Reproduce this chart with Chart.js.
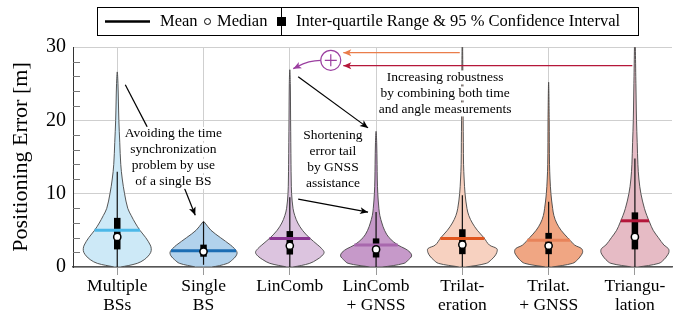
<!DOCTYPE html>
<html>
<head>
<meta charset="utf-8">
<script src="https://cdn.jsdelivr.net/npm/chart.js@4.4.0/dist/chart.umd.min.js"></script>
<style>
  body { margin: 0; background: #fff; }
  #wrap { width: 678px; height: 320px; }
</style>
</head>
<body>
<div id="wrap"><canvas id="chart" width="678" height="320"></canvas></div>
<script>
// categories and summary statistics (m)
const categories = [['Multiple', 'BSs'], ['Single', 'BS'], ['LinComb'], ['LinComb', '+ GNSS'], ['Trilat-', 'eration'], ['Trilat.', '+ GNSS'], ['Triangu-', 'lation']];
const meanErr = [5.0, 2.2, 3.9, 3.0, 3.9, 3.65, 6.3];
const medianErr = [4.1, 2.1, 2.9, 2.4, 3.05, 2.9, 4.1];
const q1Err = [2.4, 1.4, 1.7, 1.3, 1.75, 1.75, 2.4];
const q3Err = [6.7, 3.05, 4.9, 3.9, 5.15, 4.65, 7.45];
const ciLow = [0, 0.3, 0, 0, 0, 0, 0];
const ciHigh = [13.0, 6.2, 9.5, 7.5, 9.8, 8.9, 14.8];
const tailTop = [26.6, 6.2, 26.9, 18.5, 32, 25.2, 32];

// kernel density (relative units) sampled at these error values
const densityY = [0, 0.5, 1, 1.5, 2, 2.5, 3, 4, 5, 6, 7, 8, 10, 12, 14, 17, 20, 25];
const densMultiple = [3, 20, 27, 31, 33.5, 34, 33, 28.5, 22.7, 18, 14, 10.5, 7.3, 5, 3.5, 2.5, 1.6, 0.7];
const densSingle = [8, 24, 29, 32.5, 33.5, 31, 27, 17, 7.5, 1.5];
const densLinComb = [3, 20, 27, 32, 34.3, 32, 28, 19.5, 12.7, 8, 5, 3.2, 1.8, 1.4, 1.2, 1, 0.8, 0.5];
const densLinCombGnss = [6, 28, 32.5, 35.5, 34, 29, 21.7, 13, 8.5, 5.8, 3.8, 2.8, 1.7, 1.2, 1, 0.6];
const densTrilat = [3, 24, 29, 32.5, 34.5, 34.5, 27, 21.5, 15, 10, 6.5, 4.6, 2.7, 1.8, 1.2, 1, 0.8, 0.6];
const densTrilatGnss = [3, 24, 29, 32, 34, 33, 26, 19, 12.5, 8, 5.3, 4, 2.3, 1.4, 0.9, 0.7, 0.6];
const densTriang = [3, 24, 29, 32, 34, 33.5, 29, 23.5, 18.3, 15, 12, 9.5, 6, 4, 3, 2.3, 1.6, 1];
const densities = [densMultiple, densSingle, densLinComb, densLinCombGnss, densTrilat, densTrilatGnss, densTriang];

const fillColors = ['#cde9f7', '#b2d2ec', '#dcc4df', '#c699c9', '#f7d1c0', '#f0a683', '#e6bbc5'];
const meanColors = ['#4cb8e8', '#1b6db4', '#8a3592', '#a867ad', '#e1571f', '#e8835a', '#b4173b'];
const DENSITY_SCALE = 1 / 86.3;
const SERIF = '"Liberation Serif", "DejaVu Serif", serif';

function violinPoints(i) {
    const d = densities[i];
    const side = [];
    densityY.forEach((y, k) => { if (y < tailTop[i] && d[k] != null) side.push([y, d[k] * DENSITY_SCALE]); });
    side.push([tailTop[i], 0]);
    const left = side.map(([y, w]) => ({ x: i - w, y }));
    const right = side.slice().reverse().map(([y, w]) => ({ x: i + w, y }));
    return left.concat(right.slice(1), [left[0]]);
}

function widthAt(i, y) {
    const d = densities[i];
    for (let k = 0; k < d.length - 1; k++) {
        if (y >= densityY[k] && y <= densityY[k + 1]) {
            const t = (y - densityY[k]) / (densityY[k + 1] - densityY[k]);
            return (d[k] + t * (d[k + 1] - d[k])) * DENSITY_SCALE;
        }
    }
    return 0;
}

const datasets = [];
categories.forEach((c, i) => {
    datasets.push({ data: violinPoints(i), borderColor: '#444', borderWidth: 0.9, backgroundColor: fillColors[i], fill: 'shape', tension: 0.35, pointRadius: 0, order: 5 });
    datasets.push({ data: [{ x: i, y: ciLow[i] }, { x: i, y: ciHigh[i] }], borderColor: '#111', borderWidth: 1.2, pointRadius: 0, fill: false, order: 4 });
    datasets.push({ data: [{ x: i, y: q1Err[i] }, { x: i, y: q3Err[i] }], borderColor: '#000', borderWidth: 6.5, borderCapStyle: 'butt', pointRadius: 0, fill: false, order: 3 });
    const hw = widthAt(i, meanErr[i]);
    datasets.push({ data: [{ x: i - hw, y: meanErr[i] }, { x: i + hw, y: meanErr[i] }], borderColor: meanColors[i], borderWidth: 3, borderCapStyle: 'butt', pointRadius: 0, fill: false, order: 2 });
});
datasets.push({ data: medianErr.map((m, i) => ({ x: i, y: m })), showLine: false, pointRadius: 3.6, pointBackgroundColor: '#fff', pointBorderColor: '#000', pointBorderWidth: 1.5, order: 1 });

// annotations, placed in data coordinates
const annoTexts = [
    { x: 0.65, y: 18.15, lines: ['Avoiding the time', 'synchronization', 'problem by use', 'of a single BS'] },
    { x: 2.5, y: 18.0, lines: ['Shortening', 'error tail', 'by GNSS', 'assistance'] },
    { x: 3.8, y: 25.85, lines: ['Increasing robustness', 'by combining both time', 'and angle measurements'] }
];
const annoArrows = [
    { from: [0.093, 24.86], to: [0.347, 19.11], head: false, color: '#000' },
    { from: [0.718, 12.54], to: [0.904, 7.07], head: true, color: '#000' },
    { from: [2.097, 25.95], to: [2.907, 18.97], head: true, color: '#000' },
    { from: [2.097, 9.26], to: [2.907, 7.48], head: true, color: '#000' },
    { from: [3.97, 29.23], to: [2.62, 29.23], head: true, color: '#ea7d4a' },
    { from: [5.97, 27.45], to: [2.62, 27.45], head: true, color: '#b5173a' }
];
const plusCircle = { x: 2.475, y: 28.18 };

function arrowHead(ctx, x1, y1, x2, y2, color) {
    const a = Math.atan2(y2 - y1, x2 - x1);
    ctx.save();
    ctx.translate(x2, y2);
    ctx.rotate(a);
    ctx.fillStyle = color;
    ctx.beginPath();
    ctx.moveTo(0, 0);
    ctx.lineTo(-8, -3.5);
    ctx.lineTo(-6, 0);
    ctx.lineTo(-8, 3.5);
    ctx.closePath();
    ctx.fill();
    ctx.restore();
}

const decorPlugin = {
    id: 'decor',
    beforeDatasetsDraw(chart) {
        const { ctx, scales: { y }, chartArea } = chart;
        ctx.save();
        ctx.strokeStyle = '#777';
        ctx.lineWidth = 1;
        y.ticks.forEach(t => {
            if (t.value % 10 === 0) return;
            const py = Math.round(y.getPixelForValue(t.value)) + 0.5;
            ctx.beginPath();
            ctx.moveTo(chartArea.left, py);
            ctx.lineTo(chartArea.left + 7, py);
            ctx.stroke();
        });
        ctx.restore();
    },
    afterDraw(chart) {
        const { ctx, scales: { x, y } } = chart;
        ctx.save();
        // arrows
        annoArrows.forEach(a => {
            const x1 = x.getPixelForValue(a.from[0]), y1 = y.getPixelForValue(a.from[1]);
            const x2 = x.getPixelForValue(a.to[0]), y2 = y.getPixelForValue(a.to[1]);
            ctx.strokeStyle = a.color;
            ctx.lineWidth = 1.2;
            ctx.beginPath();
            ctx.moveTo(x1, y1);
            ctx.lineTo(x2, y2);
            ctx.stroke();
            if (a.head) arrowHead(ctx, x1, y1, x2, y2, a.color);
        });
        // circled plus and purple arrow to LinComb tail
        const cx = x.getPixelForValue(plusCircle.x), cy = y.getPixelForValue(plusCircle.y);
        ctx.strokeStyle = '#9b3fa0';
        ctx.lineWidth = 1.2;
        ctx.fillStyle = '#fff';
        ctx.beginPath();
        ctx.arc(cx, cy, 10, 0, Math.PI * 2);
        ctx.fill();
        ctx.stroke();
        ctx.beginPath();
        ctx.moveTo(cx - 6, cy); ctx.lineTo(cx + 6, cy);
        ctx.moveTo(cx, cy - 6); ctx.lineTo(cx, cy + 6);
        ctx.stroke();
        const ex = x.getPixelForValue(2.04), ey = y.getPixelForValue(27.05);
        ctx.beginPath();
        ctx.moveTo(cx - 10, cy);
        ctx.quadraticCurveTo(cx - 22, cy, ex + 4, ey - 2);
        ctx.lineTo(ex, ey);
        ctx.stroke();
        arrowHead(ctx, ex + 6, ey - 3, ex, ey, '#9b3fa0');
        // annotation texts
        ctx.font = '13.5px ' + SERIF;
        ctx.textAlign = 'center';
        ctx.textBaseline = 'middle';
        annoTexts.forEach(t => {
            const px = x.getPixelForValue(t.x), py = y.getPixelForValue(t.y);
            t.lines.forEach((line, k) => {
                const w = ctx.measureText(line).width;
                ctx.fillStyle = '#fff';
                ctx.fillRect(px - w / 2 - 1, py + k * 16 - 7, w + 2, 14);
                ctx.fillStyle = '#000';
                ctx.fillText(line, px, py + k * 16);
            });
        });
        // legend
        ctx.strokeStyle = '#000';
        ctx.lineWidth = 1;
        ctx.strokeRect(97.5, 7.5, 541, 28);
        ctx.lineWidth = 2.5;
        ctx.beginPath(); ctx.moveTo(105, 21.5); ctx.lineTo(150, 21.5); ctx.stroke();
        ctx.font = '16.5px ' + SERIF;
        ctx.textAlign = 'left';
        ctx.fillStyle = '#000';
        ctx.fillText('Mean', 160, 22);
        ctx.lineWidth = 1;
        ctx.beginPath(); ctx.arc(207.5, 21.5, 3, 0, Math.PI * 2); ctx.stroke();
        ctx.fillText('Median', 217, 22);
        ctx.beginPath(); ctx.moveTo(281.5, 8); ctx.lineTo(281.5, 35); ctx.stroke();
        ctx.fillRect(277, 17, 9, 9);
        ctx.fillText('Inter-quartile Range & 95 % Confidence Interval', 296, 22);
        ctx.restore();
    }
};

new Chart(document.getElementById('chart'), {
    type: 'line',
    data: { datasets },
    plugins: [decorPlugin],
    options: {
        responsive: false,
        animation: false,
        layout: { padding: { top: 47, right: 6, left: 6, bottom: 0 } },
        plugins: { legend: { display: false }, tooltip: { enabled: false } },
        scales: {
            x: {
                type: 'linear', min: -0.513, max: 6.43,
                afterBuildTicks: s => { s.ticks = categories.map((c, i) => ({ value: i })); },
                afterFit: s => { s.height = 53; },
                ticks: { callback: v => categories[v], font: { family: SERIF, size: 17.5, lineHeight: 1.1 }, color: '#000', padding: 2, maxRotation: 0, autoSkip: false },
                grid: { color: '#cfcfcf', tickColor: '#999', tickLength: 8, lineWidth: 1 },
                border: { color: '#555', width: 1.5 }
            },
            y: {
                min: 0, max: 30,
                afterBuildTicks: s => { s.ticks = Array.from({ length: 16 }, (_, k) => ({ value: k * 2 })); },
                afterFit: s => { s.width = 67; },
                ticks: { callback: v => (v % 10 === 0 ? v : ''), font: { family: SERIF, size: 20 }, color: '#000', padding: 7, autoSkip: false },
                grid: { color: c => (c.tick && c.tick.value % 10 === 0 ? '#cfcfcf' : 'rgba(0,0,0,0)'), drawTicks: false },
                border: { color: '#333', width: 1 },
                title: { display: true, text: 'Positioning Error [m]', font: { family: SERIF, size: 22 }, color: '#000', padding: { top: 2, bottom: 0 } }
            }
        }
    }
});
</script>
</body>
</html>
